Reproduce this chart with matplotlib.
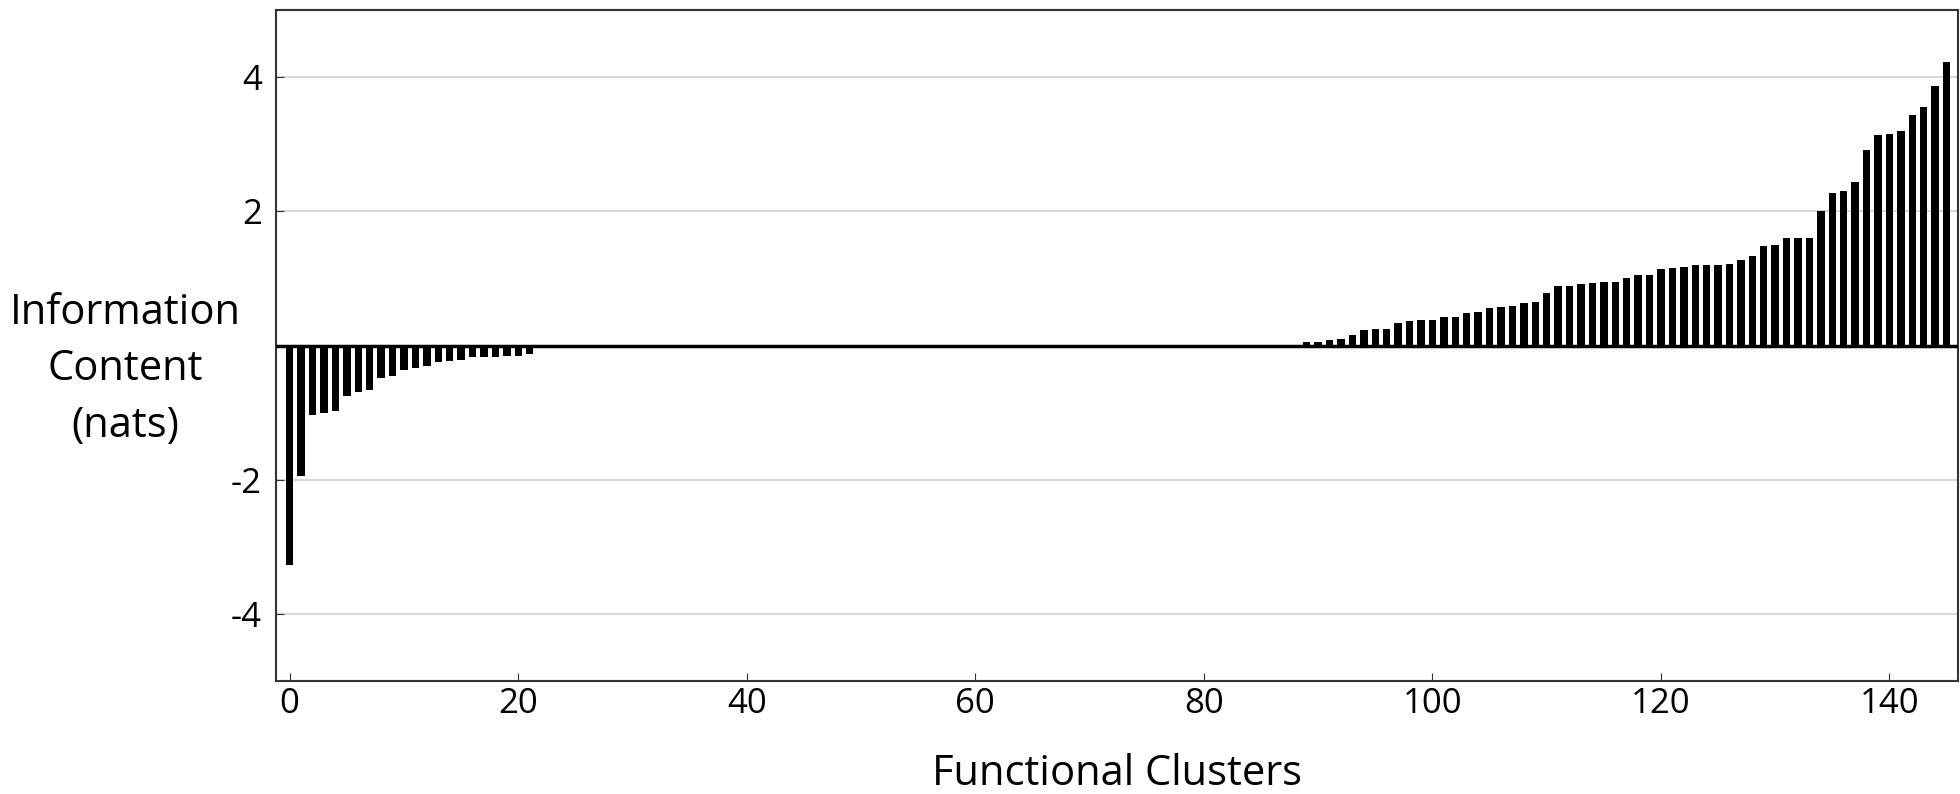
import matplotlib
matplotlib.use("Agg")
import matplotlib.pyplot as plt
import numpy as np

# information content per functional cluster (nats), sorted
negative_ic = [-3.27, -1.95, -1.03, -1.00, -0.98, -0.75, -0.69, -0.67, -0.48, -0.45,
               -0.36, -0.34, -0.30, -0.24, -0.23, -0.21, -0.17, -0.17, -0.17, -0.16,
               -0.16, -0.13]
zero_count = 67  # clusters 22..88
positive_ic = [0.05, 0.05, 0.08, 0.10, 0.15, 0.23, 0.25, 0.25, 0.33, 0.37,
               0.38, 0.38, 0.42, 0.42, 0.48, 0.50, 0.56, 0.58, 0.59, 0.63,
               0.65, 0.78, 0.89, 0.89, 0.91, 0.93, 0.94, 0.94, 1.00, 1.05,
               1.05, 1.14, 1.16, 1.17, 1.20, 1.20, 1.20, 1.21, 1.27, 1.33,
               1.49, 1.50, 1.60, 1.60, 1.60, 2.00, 2.27, 2.30, 2.44, 2.92,
               3.13, 3.15, 3.19, 3.44, 3.55, 3.86, 4.23]
values = np.array(negative_ic + [0.0] * zero_count + positive_ic)
clusters = np.arange(len(values))

y_ticks = [-4, -2, 2, 4]
x_ticks = [0, 20, 40, 60, 80, 100, 120, 140]

plt.rcParams["font.family"] = ["Open Sans", "DejaVu Sans"]

fig = plt.figure(figsize=(19.6, 7.94), dpi=100)
ax = fig.add_axes([0.1408, 0.1423, 0.8582, 0.8451])

for y in y_ticks:
    ax.axhline(y, color="#d9d9d9", lw=1.5, zorder=0)
ax.bar(clusters, values, width=0.65, color="black", zorder=2)
ax.axhline(0, color="black", lw=2.5, zorder=3)

ax.set_xlim(-1.2, 146)
ax.set_ylim(-5, 5)
ax.set_yticks(y_ticks)
ax.set_yticklabels([str(t) for t in y_ticks])
ax.set_xticks(x_ticks)
ax.tick_params(direction="in", labelsize=25, color="#333333", length=6)
ax.tick_params(axis="y", pad=10)
ax.tick_params(axis="x", pad=4)
for s in ax.spines.values():
    s.set_color("#333333")
    s.set_linewidth(1.5)

ax.set_xlabel("Functional Clusters", fontsize=30, labelpad=23)
fig.text(0.064, 0.535, "Information\nContent\n(nats)", fontsize=30,
         ha="center", va="center", linespacing=1.45)

fig.savefig("out.png", dpi=100)
